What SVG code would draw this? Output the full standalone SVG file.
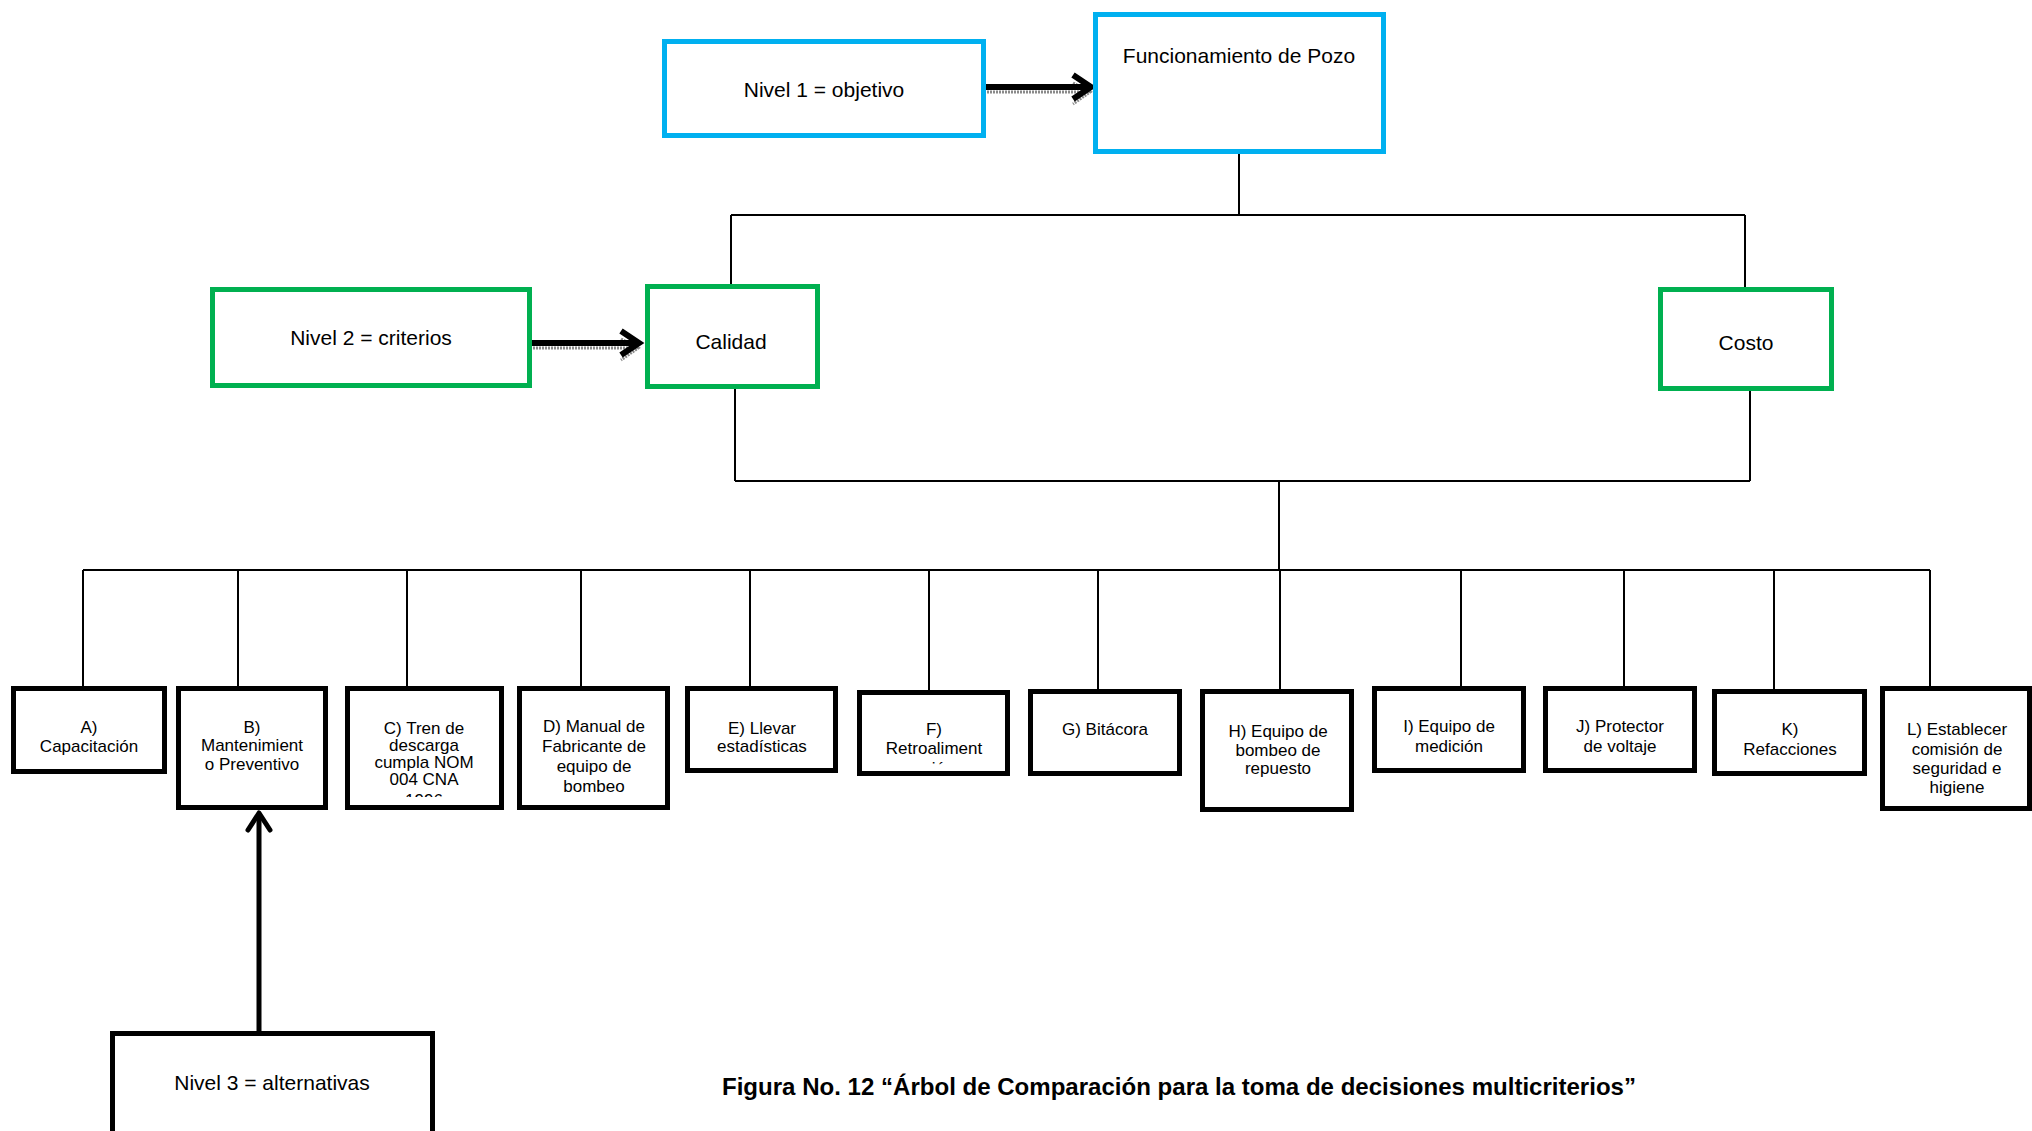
<svg xmlns="http://www.w3.org/2000/svg" width="2032" height="1131" viewBox="0 0 2032 1131">
  <style>
    .lvl1 { fill: #ffffff; stroke: #00b0f0; stroke-width: 5; }
    .lvl2 { fill: #ffffff; stroke: #00b050; stroke-width: 5; }
    .alt { fill: #ffffff; stroke: #000000; stroke-width: 5; }
    .big { font-family: "Liberation Sans", Arial, sans-serif; font-size: 21px; fill: #000; text-anchor: middle; }
    .small { font-family: "Liberation Sans", Arial, sans-serif; font-size: 17px; fill: #000; text-anchor: middle; }
    .cap { font-family: "Liberation Sans", Arial, sans-serif; font-size: 24px; font-weight: bold; fill: #000; text-anchor: middle; }
    .link { fill: none; stroke: #000; stroke-width: 2; }
    .thick { fill: none; stroke: #000; stroke-width: 6; stroke-linecap: butt; stroke-linejoin: miter; }
    .shadow { fill: none; stroke: #8a8a8a; stroke-width: 3; stroke-dasharray: 2 1; }
  </style>
  <defs>
    <clipPath id="clipC"><rect x="347" y="688" width="155" height="109"/></clipPath>
    <clipPath id="clipF"><rect x="859" y="692" width="149" height="73"/></clipPath>
  </defs>

  <rect width="2032" height="1131" fill="#ffffff"/>

  <!-- tree connectors -->
  <g id="connectors">
    <!-- goal to criteria -->
    <path class="link" d="M1239 154 V215 M731 215 H1745 M731 215 V284 M1745 215 V287"/>
    <!-- criteria to alternatives -->
    <path class="link" d="M735 389 V481 M1750 391 V481 M735 481 H1750 M1279 481 V570"/>
    <path class="link" d="M83 570 H1930"/>
    <path class="link" d="M83 570 V686 M238 570 V686 M407 570 V686 M581 570 V686 M750 570 V686 M929 570 V690 M1098 570 V689 M1280 570 V689 M1461 570 V686 M1624 570 V686 M1774 570 V689 M1930 570 V686"/>

    <!-- level label arrows -->
    <g id="arrow-nivel1">
      <path class="shadow" d="M987 92 H1086 M1073 83 L1090 92 L1073 104"/>
      <path class="thick" d="M986 87 H1088 M1073 75 L1091 87 L1073 99"/>
    </g>
    <g id="arrow-nivel2">
      <path class="shadow" d="M533 348 H634 M621 339 L638 348 L621 360"/>
      <path class="thick" d="M532 343 H636 M621 331 L639 343 L621 355"/>
    </g>
    <g id="arrow-nivel3">
      <path fill="none" stroke="#000" stroke-width="5" d="M259 1031 V814"/>
      <path fill="none" stroke="#000" stroke-width="5" stroke-linecap="round" stroke-linejoin="round" d="M248 830 L259 813 L270 830"/>
    </g>
  </g>

  <!-- level 1: goal -->
  <g id="nivel1">
    <rect class="lvl1" x="664.5" y="41.5" width="319" height="94"/>
    <text class="big" x="824" y="97">Nivel 1 = objetivo</text>
  </g>
  <g id="objetivo">
    <rect class="lvl1" x="1095.5" y="14.5" width="288" height="137"/>
    <text class="big" x="1239" y="63">Funcionamiento de Pozo</text>
  </g>

  <!-- level 2: criteria -->
  <g id="nivel2">
    <rect class="lvl2" x="212.5" y="289.5" width="317" height="96"/>
    <text class="big" x="371" y="345">Nivel 2 = criterios</text>
  </g>
  <g id="calidad">
    <rect class="lvl2" x="647.5" y="286.5" width="170" height="100"/>
    <text class="big" x="731" y="349">Calidad</text>
  </g>
  <g id="costo">
    <rect class="lvl2" x="1660.5" y="289.5" width="171" height="99"/>
    <text class="big" x="1746" y="350">Costo</text>
  </g>

  <!-- level 3: alternatives -->
  <g id="alt-a">
    <rect class="alt" x="13.5" y="688.5" width="151" height="83"/>
    <text class="small"><tspan x="89" y="733">A)</tspan><tspan x="89" y="752">Capacitación</tspan></text>
  </g>
  <g id="alt-b">
    <rect class="alt" x="178.5" y="688.5" width="147" height="119"/>
    <text class="small"><tspan x="252" y="733">B)</tspan><tspan x="252" y="751">Mantenimient</tspan><tspan x="252" y="770">o Preventivo</tspan></text>
  </g>
  <g id="alt-c">
    <rect class="alt" x="347.5" y="688.5" width="154" height="119"/>
    <text class="small" clip-path="url(#clipC)"><tspan x="424" y="734">C) Tren de</tspan><tspan x="424" y="751">descarga</tspan><tspan x="424" y="768">cumpla NOM</tspan><tspan x="424" y="785">004 CNA</tspan><tspan x="424" y="806">1996</tspan></text>
  </g>
  <g id="alt-d">
    <rect class="alt" x="519.5" y="688.5" width="148" height="119"/>
    <text class="small"><tspan x="594" y="732">D) Manual de</tspan><tspan x="594" y="752">Fabricante de</tspan><tspan x="594" y="772">equipo de</tspan><tspan x="594" y="792">bombeo</tspan></text>
  </g>
  <g id="alt-e">
    <rect class="alt" x="687.5" y="688.5" width="148" height="82"/>
    <text class="small"><tspan x="762" y="734">E) Llevar</tspan><tspan x="762" y="752">estadísticas</tspan></text>
  </g>
  <g id="alt-f">
    <rect class="alt" x="859.5" y="692.5" width="148" height="81"/>
    <text class="small" clip-path="url(#clipF)"><tspan x="934" y="735">F)</tspan><tspan x="934" y="754">Retroaliment</tspan><tspan x="934" y="774">ación</tspan></text>
  </g>
  <g id="alt-g">
    <rect class="alt" x="1030.5" y="691.5" width="149" height="82"/>
    <text class="small" x="1105" y="735">G) Bitácora</text>
  </g>
  <g id="alt-h">
    <rect class="alt" x="1202.5" y="691.5" width="149" height="118"/>
    <text class="small"><tspan x="1278" y="737">H) Equipo de</tspan><tspan x="1278" y="756">bombeo de</tspan><tspan x="1278" y="774">repuesto</tspan></text>
  </g>
  <g id="alt-i">
    <rect class="alt" x="1374.5" y="688.5" width="149" height="82"/>
    <text class="small"><tspan x="1449" y="732">I) Equipo de</tspan><tspan x="1449" y="752">medición</tspan></text>
  </g>
  <g id="alt-j">
    <rect class="alt" x="1545.5" y="688.5" width="149" height="82"/>
    <text class="small"><tspan x="1620" y="732">J) Protector</tspan><tspan x="1620" y="752">de voltaje</tspan></text>
  </g>
  <g id="alt-k">
    <rect class="alt" x="1714.5" y="691.5" width="150" height="82"/>
    <text class="small"><tspan x="1790" y="735">K)</tspan><tspan x="1790" y="755">Refacciones</tspan></text>
  </g>
  <g id="alt-l">
    <rect class="alt" x="1882.5" y="688.5" width="147" height="120"/>
    <text class="small"><tspan x="1957" y="735">L) Establecer</tspan><tspan x="1957" y="755">comisión de</tspan><tspan x="1957" y="774">seguridad e</tspan><tspan x="1957" y="793">higiene</tspan></text>
  </g>

  <g id="nivel3">
    <rect class="alt" x="112.5" y="1033.5" width="320" height="120"/>
    <text class="big" x="272" y="1090">Nivel 3 = alternativas</text>
  </g>

  <!-- figure caption -->
  <text class="cap" x="1179" y="1095" textLength="914" lengthAdjust="spacingAndGlyphs">Figura No. 12 “Árbol de Comparación para la toma de decisiones multicriterios”</text>
</svg>
